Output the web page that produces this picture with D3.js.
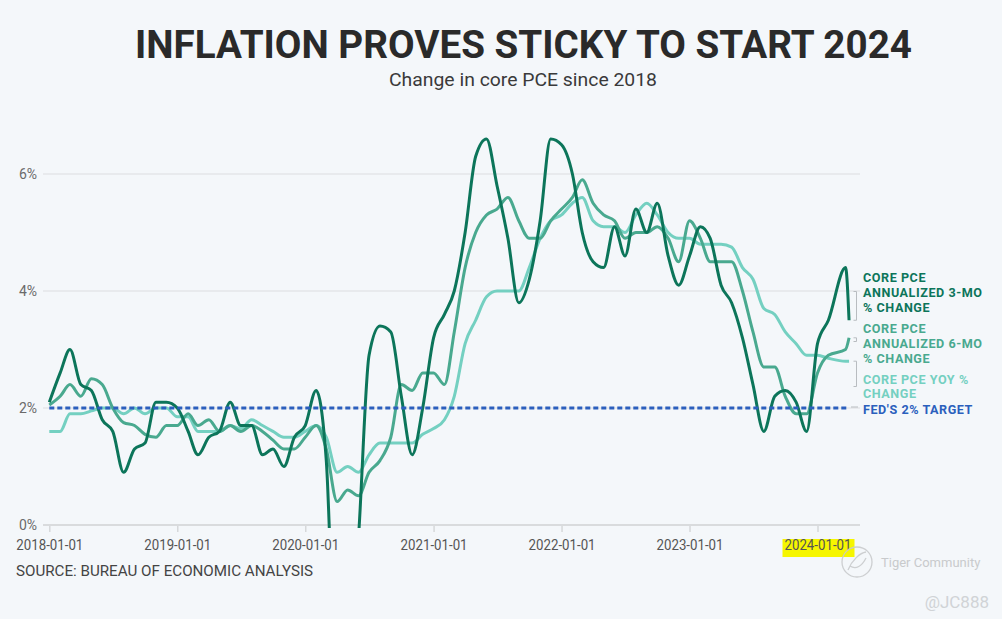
<!DOCTYPE html>
<html><head><meta charset="utf-8">
<script src="https://cdn.jsdelivr.net/npm/d3@7"></script>
<style>
html,body{margin:0;padding:0;background:#f4f7fa;}
svg{display:block;font-family:Roboto,"Noto Sans",sans-serif;}
</style>
</head><body><div id="chart"></div>
<script>
// ---------------- DATA ----------------
const dates = [
"2018-01-01","2018-02-01","2018-03-01","2018-04-01","2018-05-01","2018-06-01","2018-07-01","2018-08-01","2018-09-01","2018-10-01","2018-11-01","2018-12-01",
"2019-01-01","2019-02-01","2019-03-01","2019-04-01","2019-05-01","2019-06-01","2019-07-01","2019-08-01","2019-09-01","2019-10-01","2019-11-01","2019-12-01",
"2020-01-01","2020-02-01","2020-03-01","2020-04-01","2020-05-01","2020-06-01","2020-07-01","2020-08-01","2020-09-01","2020-10-01","2020-11-01","2020-12-01",
"2021-01-01","2021-02-01","2021-03-01","2021-04-01","2021-05-01","2021-06-01","2021-07-01","2021-08-01","2021-09-01","2021-10-01","2021-11-01","2021-12-01",
"2022-01-01","2022-02-01","2022-03-01","2022-04-01","2022-05-01","2022-06-01","2022-07-01","2022-08-01","2022-09-01","2022-10-01","2022-11-01","2022-12-01",
"2023-01-01","2023-02-01","2023-03-01","2023-04-01","2023-05-01","2023-06-01","2023-07-01","2023-08-01","2023-09-01","2023-10-01","2023-11-01","2023-12-01",
"2024-01-01","2024-02-01","2024-03-21","2024-03-31"];

// Core PCE annualized 3-month % change
const core3mo = [
2.1,2.6,3.0,2.4,2.3,1.8,1.6,0.9,1.3,1.4,2.1,2.1,
2.0,1.6,1.2,1.5,1.6,2.1,1.7,1.7,1.2,1.3,1.0,1.5,
1.7,2.3,1.1,-3.0,-2.5,-0.2,2.9,3.4,3.3,2.2,1.2,2.0,
3.2,3.6,4.0,5.0,6.3,6.6,5.8,4.9,3.8,4.2,5.2,6.6,
6.5,6.0,5.0,4.5,4.4,5.1,4.6,5.4,5.0,5.5,4.6,4.1,
4.6,5.1,4.9,4.1,3.8,3.2,2.4,1.6,2.2,2.3,2.1,1.6,
3.1,3.5,4.4,3.5];

// Core PCE annualized 6-month % change
const core6mo = [
2.05,2.2,2.4,2.2,2.5,2.4,2.0,1.75,1.7,1.55,1.5,1.7,
1.7,1.9,1.7,1.8,1.6,1.7,1.6,1.7,1.6,1.45,1.3,1.3,
1.5,1.7,1.3,0.4,0.6,0.5,0.9,1.1,1.5,2.4,2.3,2.6,
2.6,2.4,3.3,4.4,5.0,5.3,5.4,5.6,5.2,4.9,4.9,5.2,
5.4,5.6,5.9,5.5,5.3,5.2,4.9,5.0,5.0,5.1,4.9,4.5,
5.2,4.9,4.5,4.5,4.5,4.0,3.3,2.7,2.7,2.2,1.9,1.9,
2.6,2.9,3.0,3.2];

// Core PCE year-over-year % change
const coreYoY = [
1.6,1.6,1.9,1.9,1.95,2.0,2.0,1.9,2.0,1.9,2.0,2.0,
1.85,1.85,1.6,1.6,1.6,1.7,1.65,1.8,1.7,1.6,1.5,1.5,
1.6,1.7,1.5,0.9,1.0,0.9,1.2,1.4,1.4,1.4,1.4,1.55,
1.65,1.8,2.2,3.1,3.5,3.9,4.0,4.0,4.0,4.4,4.9,5.2,
5.3,5.5,5.6,5.2,5.1,5.1,5.0,5.3,5.5,5.3,5.0,4.9,
4.9,4.8,4.8,4.8,4.75,4.4,4.2,3.7,3.6,3.3,3.1,2.9,
2.9,2.85,2.8,2.8];

const fedTarget = 2;

const yTicks = [0,2,4,6];
const yTickLabels = ["0%","2%","4%","6%"];
const xTicks = ["2018-01-01","2019-01-01","2020-01-01","2021-01-01","2022-01-01","2023-01-01","2024-01-01"];

const seriesNames = ["yoy","6mo","3mo"];
const seriesLabels = {
  "3mo": ["CORE PCE","ANNUALIZED 3-MO","% CHANGE"],
  "6mo": ["CORE PCE","ANNUALIZED 6-MO","% CHANGE"],
  "yoy": ["CORE PCE YOY %","CHANGE"],
  "fed": ["FED'S 2% TARGET"]
};
const titleText = "INFLATION PROVES STICKY TO START 2024";
const subtitleText = "Change in core PCE since 2018";
const sourceText = "SOURCE: BUREAU OF ECONOMIC ANALYSIS";

// ---------------- STYLE / LAYOUT ----------------
const W = 1002, H = 619;
const colors = {"3mo":"#0c755a","6mo":"#49a98f","yoy":"#74d0c1","fed":"#2b5fbd"};
const labelLayout = { // label block: first baseline (px), line height, connector anchor
  "3mo": {y0: 282, lh: 14.8, anchor: 291.5},
  "6mo": {y0: 333, lh: 14.8, anchor: 341.5},
  "yoy": {y0: 383.5, lh: 14.8, anchor: 386.5},
  "fed": {y0: 413.5, lh: 14.8, anchor: 407}
};
const labelFont = 12.6;

const parse = d3.utcParse("%Y-%m-%d");
const dts = dates.map(parse);
const seriesData = {"3mo": core3mo, "6mo": core6mo, "yoy": coreYoY};

const x = d3.scaleUtc().domain([parse("2018-01-01"), parse("2024-01-01")]).range([49.3, 817.5]);
const y = d3.scaleLinear().domain([0, 6]).range([525, 174]);
const gridX0 = 43, gridX1 = 860;

const svg = d3.select("#chart").append("svg").attr("width", W).attr("height", H);
svg.append("rect").attr("width", W).attr("height", H).attr("fill", "#f4f7fa");

// Title & subtitle
svg.append("text").attr("x", 523.5).attr("y", 58).attr("text-anchor", "middle")
  .attr("font-size", 39).attr("font-weight", 700).attr("fill", "#2a2a2a")
  .attr("textLength", 777).attr("lengthAdjust", "spacingAndGlyphs").text(titleText);
svg.append("text").attr("x", 523).attr("y", 85.5).attr("text-anchor", "middle")
  .attr("font-size", 17.5).attr("fill", "#3a3a3a")
  .attr("textLength", 268).attr("lengthAdjust", "spacingAndGlyphs").text(subtitleText);

// Gridlines & y labels
const gy = svg.append("g");
gy.selectAll("line").data(yTicks.filter(d => d !== 0)).join("line")
  .attr("x1", gridX0).attr("x2", gridX1).attr("y1", d => y(d)).attr("y2", d => y(d))
  .attr("stroke", "#dcdee0").attr("stroke-width", 1.2);
gy.selectAll("text").data(yTicks).join("text")
  .attr("x", 37).attr("y", d => y(d) + 5).attr("text-anchor", "end")
  .attr("font-size", 14).attr("fill", "#6a6a6a").text((d, i) => yTickLabels[i]);

// X axis
const xAxis = d3.axisBottom(x).tickValues(xTicks.map(parse)).tickSize(7)
  .tickFormat(d3.utcFormat("%Y-%m-%d"));
const gx = svg.append("g").attr("transform", `translate(0,${y(0)})`).call(xAxis);
gx.select(".domain").remove();
gx.selectAll(".tick line").attr("stroke", "#d6d8da").attr("stroke-width", 1.5);

// Yellow highlight behind 2024 label
const hl = x(parse("2024-01-01"));
gx.insert("rect", ":first-child").attr("x", hl - 35).attr("y", 14).attr("width", 72).attr("height", 18)
  .attr("fill", "#f6f600");
gx.selectAll(".tick text").attr("y", 12).attr("dy", "0.9em")
  .attr("font-size", 14.5).attr("fill", "#555").attr("font-family", "Roboto, sans-serif")
  .attr("textLength", 67).attr("lengthAdjust", "spacingAndGlyphs");
svg.append("line").attr("x1", gridX0).attr("x2", gridX1).attr("y1", y(0)).attr("y2", y(0))
  .attr("stroke", "#d9dbdd").attr("stroke-width", 2);

// Clip
svg.append("clipPath").attr("id", "plotclip").append("rect")
  .attr("x", 0).attr("y", 100).attr("width", W).attr("height", y(0) + 3 - 100);

const line = d3.line().x((d, i) => x(dts[i])).y(d => y(d)).curve(d3.curveMonotoneX);
const gl = svg.append("g").attr("clip-path", "url(#plotclip)");
seriesNames.forEach(k => {
  gl.append("path").datum(seriesData[k]).attr("d", line)
    .attr("fill", "none").attr("stroke", colors[k]).attr("stroke-width", 3)
    .attr("stroke-linejoin", "round").attr("stroke-linecap", "butt");
});
// Fed target dashed
gl.append("path").datum(dts.map(() => fedTarget))
  .attr("d", d3.line().x((d, i) => x(dts[i])).y(d => y(d)))
  .attr("fill", "none").attr("stroke", colors.fed).attr("stroke-width", 3)
  .attr("stroke-dasharray", "5,3");

// Labels + connectors
const lastIdx = dts.length - 1;
const endVals = {"3mo": core3mo[lastIdx], "6mo": core6mo[lastIdx], "yoy": coreYoY[lastIdx], "fed": fedTarget};
const cx = 856.5;
const gLab = svg.append("g");
Object.keys(labelLayout).forEach(k => {
  const L = labelLayout[k];
  const ye = y(endVals[k]);
  if (k === "fed") {
    gLab.append("line").attr("x1", 851).attr("x2", 858).attr("y1", ye - 1).attr("y2", ye - 1)
      .attr("stroke", "#b8bcc0").attr("stroke-width", 1);
  } else {
    gLab.append("path")
      .attr("d", `M${cx - 3},${ye}H${cx}V${L.anchor}H${cx - 3}`)
      .attr("fill", "none").attr("stroke", "#b8bcc0").attr("stroke-width", 1);
  }
  seriesLabels[k].forEach((s, i) => {
    gLab.append("text").attr("x", 863).attr("y", L.y0 + i * L.lh)
      .attr("font-size", labelFont).attr("font-weight", 700).attr("letter-spacing", 0.55)
      .attr("fill", colors[k]).text(s);
  });
});

// Source
svg.append("text").attr("x", 16).attr("y", 576).attr("font-size", 14).attr("fill", "#444")
  .attr("textLength", 297).attr("lengthAdjust", "spacingAndGlyphs").text(sourceText);

// Watermark
const wm = svg.append("g").attr("opacity", 0.9);
wm.append("circle").attr("cx", 857).attr("cy", 562).attr("r", 15).attr("fill", "none")
  .attr("stroke", "#c9cbcd").attr("stroke-width", 1.3);
wm.append("path").attr("d", "M848,570 C852,560 860,553 866,552 M850,566 C856,570 862,566 866,558")
  .attr("fill", "none").attr("stroke", "#c9cbcd").attr("stroke-width", 1.3);
wm.append("text").attr("x", 881).attr("y", 567).attr("font-size", 13).attr("fill", "#c4c6c8")
  .text("Tiger Community");
wm.append("text").attr("x", 989).attr("y", 608).attr("text-anchor", "end").attr("font-size", 17)
  .attr("fill", "#cdd0d3").text("@JC888");
</script>
</body></html>
